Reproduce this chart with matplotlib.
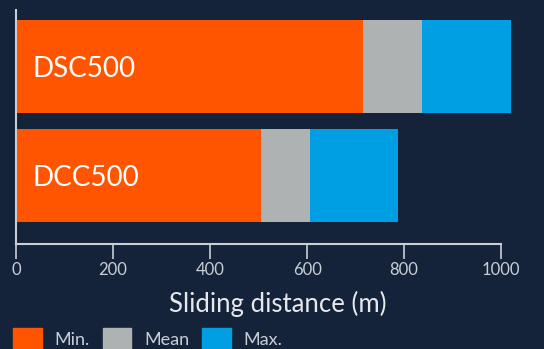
import matplotlib.pyplot as plt
from matplotlib.patches import Patch

samples = ['DSC500', 'DCC500']
min_vals = [716, 505]
mean_vals = [837, 606]
max_vals = [1021, 788]
ticks = [0, 200, 400, 600, 800, 1000]

bg = '#14233a'
c_min, c_mean, c_max = '#ff5500', '#afb2b3', '#009fe3'
fg = '#c9ced6'

plt.rcParams['font.family'] = ['Lato', 'DejaVu Sans']

fig = plt.figure(figsize=(5.44, 3.49), dpi=100, facecolor=bg)
ax = fig.add_axes([16/544, 1 - 244/349, (1050*0.4852)/544, 234/349], facecolor=bg)

y = [1, 0]
seg_mean = [m - n for m, n in zip(mean_vals, min_vals)]
seg_max = [x - m for x, m in zip(max_vals, mean_vals)]
ax.barh(y, min_vals, height=0.853, color=c_min)
ax.barh(y, seg_mean, left=min_vals, height=0.853, color=c_mean)
ax.barh(y, seg_max, left=mean_vals, height=0.853, color=c_max)

for yi, name in zip(y, samples):
    ax.text(35, yi - 0.096, name, color='white', fontsize=20,
            va='baseline', ha='left')

ax.set_xlim(0, 1050)
ax.set_ylim(-0.628, 1.518)
ax.set_xticks(ticks)
ax.set_yticks([])
ax.spines['right'].set_visible(False)
ax.spines['top'].set_visible(False)
ax.spines['bottom'].set_bounds(0, 1000)
for s in ['left', 'bottom']:
    ax.spines[s].set_color(fg)
    ax.spines[s].set_linewidth(1.5)
ax.tick_params(axis='x', colors=fg, labelcolor=fg, length=11, width=1.2,
               labelsize=12, pad=2)
ax.set_xlabel('Sliding distance (m)', color='#e6e8ec', fontsize=18.5)
ax.xaxis.set_label_coords(0.514, -0.2)

handles = [Patch(color=c_min), Patch(color=c_mean), Patch(color=c_max)]
leg = fig.legend(handles, ['Min.', 'Mean', 'Max.'], loc='lower left',
                 bbox_to_anchor=(0.001, -0.04), ncol=3, frameon=False,
                 fontsize=13, handlelength=1.6, handleheight=1.5,
                 handletextpad=0.7, columnspacing=0.7, borderpad=0.2)
for t in leg.get_texts():
    t.set_color(fg)

fig.savefig('out.png', dpi=100, facecolor=bg)
